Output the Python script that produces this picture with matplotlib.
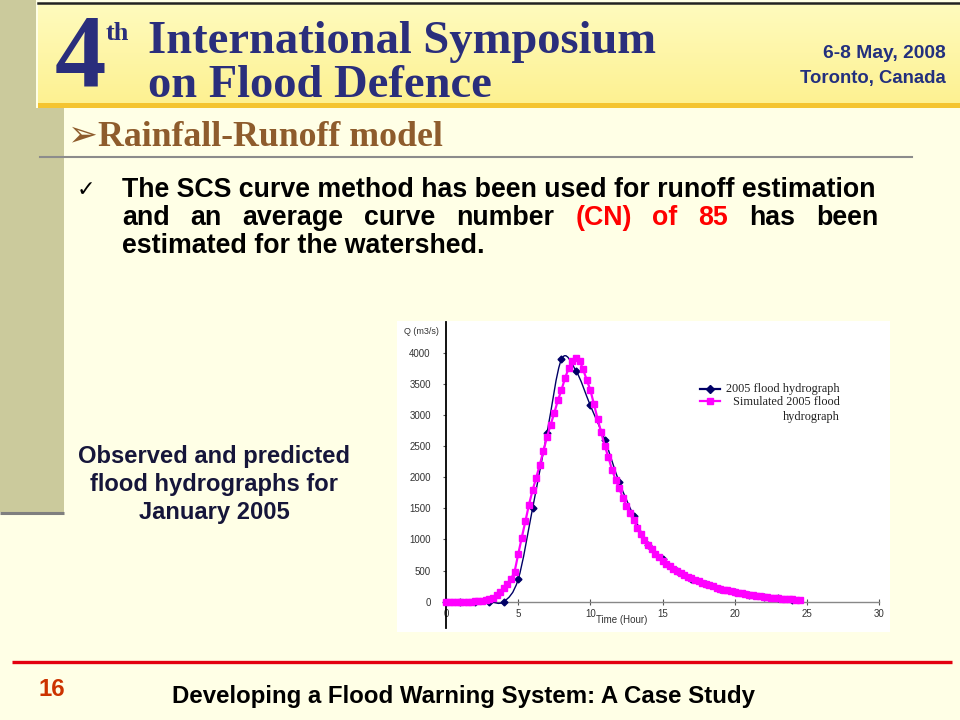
import matplotlib
matplotlib.use("Agg")
import matplotlib.pyplot as plt
import numpy as np
from matplotlib.path import Path
from matplotlib.patches import PathPatch, Rectangle

# ---------------- data ----------------
obs_time = [0, 1, 2, 3, 4, 5, 6, 7, 8, 9, 10, 11, 12, 13, 14, 15, 16, 17, 18, 19, 20, 21, 22, 23, 24]
obs_flow = [0, 0, 0, 0, 0, 360, 1500, 2710, 3890, 3710, 3150, 2600, 1920, 1380, 910, 680,
            490, 370, 280, 210, 155, 110, 80, 55, 35]

sim_time = np.arange(0, 24.75, 0.25)  # simulated output every 0.25 h
sim_flow = [0, 0, 0, 0, 0, 0, 0, 0, 5, 8, 12, 20,
            40, 60, 100, 150, 220, 280, 360, 480,
            760, 1030, 1290, 1560, 1790, 1990, 2200, 2420,
            2650, 2840, 3030, 3230, 3400, 3590, 3750, 3860,
            3920, 3870, 3730, 3560, 3400, 3170, 2940, 2720,
            2500, 2320, 2120, 1960, 1820, 1670, 1540, 1420,
            1310, 1190, 1080, 990, 910, 840, 770, 710,
            660, 610, 570, 530, 490, 460, 430, 400,
            375, 350, 325, 305, 285, 265, 245, 228,
            210, 195, 180, 168, 155, 143, 132, 121,
            111, 102, 94, 86, 79, 72, 66, 60,
            55, 50, 45, 41, 37, 33, 30]

x_ticks = [0, 5, 10, 15, 20, 25, 30]
y_ticks = [0, 500, 1000, 1500, 2000, 2500, 3000, 3500, 4000]
legend_obs = "2005 flood hydrograph"
legend_sim = ["Simulated 2005 flood", "hydrograph"]

# ---------------- figure ----------------
W, H = 960, 720
fig = plt.figure(figsize=(9.6, 7.2), dpi=100)
fig.patch.set_facecolor("#FFFFE6")

bg = fig.add_axes([0, 0, 1, 1], zorder=0)
bg.set_xlim(0, W)
bg.set_ylim(H, 0)
bg.axis("off")
bg.set_facecolor("none")

# left olive bar
bg.add_patch(Rectangle((0, 0), 36, 110, color="#CBCA9C", lw=0))
bg.add_patch(Rectangle((0, 108), 64, 404, color="#CBCA9C", lw=0))
bg.plot([0, 64], [513, 513], color="#7F7F7F", lw=2.2, solid_capstyle="butt")

# header banner with gradient
grad = np.linspace(0, 1, 100)[:, None]
top = np.array([255, 251, 190]) / 255
bot = np.array([253, 241, 145]) / 255
img = top[None, None, :] * (1 - grad[..., None]) + bot[None, None, :] * grad[..., None]
bg.imshow(img, extent=[38, W, 104, 3], aspect="auto", zorder=1)
bg.plot([38, W], [2.5, 2.5], color="#222222", lw=1.8, zorder=2)
bg.add_patch(Rectangle((38, 103), W - 38, 5, color="#F4C430", lw=0, zorder=2))

navy_h = "#2A2E7C"
bg.text(80, 60, "4", fontsize=74, family="Liberation Serif", weight="bold",
        color=navy_h, ha="center", va="center", zorder=3)
bg.text(106, 33, "th", fontsize=19, family="Liberation Serif", weight="bold",
        color=navy_h, ha="left", va="center", zorder=3)
h1 = bg.text(148, 53, "International Symposium", fontsize=36, family="Liberation Serif",
             weight="bold", color=navy_h, ha="left", va="baseline", zorder=3)
h2 = bg.text(148, 97, "on Flood Defence", fontsize=36, family="Liberation Serif",
             weight="bold", color=navy_h, ha="left", va="baseline", zorder=3)
d1 = bg.text(946, 53, "6-8 May, 2008", fontsize=10.5, family="Liberation Sans",
             weight="bold", color="#23307E", ha="right", va="center", zorder=3)
d2 = bg.text(946, 78, "Toronto, Canada", fontsize=10.5, family="Liberation Sans",
             weight="bold", color="#23307E", ha="right", va="center", zorder=3)

# title
title = bg.text(68, 137, "\u27a2Rainfall-Runoff model", fontsize=22,
                family=["Liberation Serif", "DejaVu Sans"], weight="bold",
                color="#8E5C2C", ha="left", va="center")
bg.plot([40, 912], [157, 157], color="#8C8C8C", lw=1.5)

# bullet
bg.text(77, 190, "\u2713", fontsize=16, family="DejaVu Sans", color="black",
        ha="left", va="center")
body_kw = dict(family="Liberation Sans", weight="bold", ha="left", va="center", fontsize=16)
l1 = bg.text(122, 190, "The SCS curve method has been used for runoff estimation", color="black", **body_kw)
l3 = bg.text(122, 246, "estimated for the watershed.", color="black", **body_kw)
words2 = ["and", "an", "average", "curve", "number", "(CN)", "of", "85", "has", "been"]
red_words = {"(CN)", "of", "85"}
w2 = [bg.text(122, 218, w, color=("#FF0000" if w in red_words else "black"), **body_kw)
      for w in words2]

# caption
cap_kw = dict(family="Liberation Sans", weight="bold", ha="center", va="center",
              fontsize=14, color="#16163A")
c1 = bg.text(214, 456, "Observed and predicted", **cap_kw)
c2 = bg.text(214, 485, "flood hydrographs for", **cap_kw)
c3 = bg.text(214, 513, "January 2005", **cap_kw)

# footer
bg.plot([12, 952], [662, 662], color="#E3000F", lw=2.4, solid_capstyle="butt")
f16 = bg.text(38, 690, "16", family="Liberation Sans", weight="bold", fontsize=15,
              color="#CC3300", ha="left", va="center")
ft = bg.text(172, 697, "Developing a Flood Warning System: A Case Study",
             family="Liberation Sans", weight="bold", fontsize=14, color="black",
             ha="left", va="center")

# chart picture background
bg.add_patch(Rectangle((397, 321), 493, 311, color="white", lw=0, zorder=1))

# fit text widths
fig.canvas.draw()
r = fig.canvas.get_renderer()


def fit(t, width):
    w = t.get_window_extent(r).width
    t.set_fontsize(t.get_fontsize() * width / w)


fit(h1, 577)
hfs = h1.get_fontsize() * 0.88
h1.set_fontsize(hfs)
h2.set_fontsize(hfs)
fit(d1, 124)
fit(d2, 146)
fit(title, 375)
fit(l1, 756)
fs = l1.get_fontsize()
l3.set_fontsize(fs)
for t in w2:
    t.set_fontsize(fs)
fit(c1, 272)
for c in (c2, c3):
    c.set_fontsize(c1.get_fontsize())
fit(ft, 583)
fit(f16, 27)
fig.canvas.draw()
widths = [t.get_window_extent(r).width for t in w2]
gap = (756 - sum(widths)) / (len(w2) - 1)
x = 122
for t, w in zip(w2, widths):
    t.set_x(x)
    x += w + gap

# ---------------- chart axes ----------------
x0, x1 = 446, 879
yb, yt = 628, 322
ax = fig.add_axes([x0 / W, (H - yb) / H, (x1 - x0) / W, (yb - yt) / H], zorder=2)
ax.set_facecolor("none")
ax.set_xlim(0, 30)
ax.set_ylim(-422, 4490)
for s in ("top", "right"):
    ax.spines[s].set_visible(False)
ax.spines["left"].set_color("black")
ax.spines["left"].set_linewidth(1.3)
ax.spines["bottom"].set_position(("data", 0))
ax.spines["bottom"].set_color("#888888")
ax.spines["bottom"].set_linewidth(1.0)
ax.set_xticks(x_ticks)
ax.set_yticks(y_ticks)
ax.tick_params(axis="x", direction="inout", length=4, width=0.8, color="#555555",
               labelsize=7, labelcolor="#333333", pad=3)
ax.tick_params(axis="y", direction="out", length=2, width=0.8, color="#555555",
               labelsize=7, labelcolor="#333333", pad=9)
for lab in ax.get_xticklabels() + ax.get_yticklabels():
    lab.set_family("Liberation Sans")

ax.set_xlabel("Time (Hour)", fontsize=7, family="Liberation Sans", color="#333333")
ax.xaxis.set_label_coords((622 - x0) / (x1 - x0), (yb - 620) / (yb - yt))
ax.xaxis.label.set_va("center")
bg.text(404, 331, "Q (m3/s)", fontsize=6.5, family="Liberation Sans", color="#333333",
        ha="left", va="center", zorder=3)

# observed: smoothed line (Catmull-Rom as cubic Bezier) through the points
navy = "#000066"
P = np.column_stack([obs_time, obs_flow]).astype(float)
verts = [tuple(P[0])]
codes = [Path.MOVETO]
n = len(P)
for i in range(n - 1):
    p0 = P[i - 1] if i > 0 else P[i]
    p1, p2 = P[i], P[i + 1]
    p3 = P[i + 2] if i + 2 < n else P[i + 1]
    c1p = p1 + (p2 - p0) / 6.0
    c2p = p2 - (p3 - p1) / 6.0
    verts += [tuple(c1p), tuple(c2p), tuple(p2)]
    codes += [Path.CURVE4] * 3
ax.add_patch(PathPatch(Path(verts, codes), fill=False, edgecolor=navy, lw=1.0, zorder=3))
ax.plot(obs_time, obs_flow, linestyle="none", marker="D", markersize=3.5,
        color=navy, zorder=4, clip_on=False)

mag = "#FF00FF"
ax.plot(sim_time, sim_flow, color=mag, lw=1.6, marker="s", markersize=3.9,
        markeredgecolor=mag, zorder=5, clip_on=False)

# legend (handles left, labels right-aligned as in the original)
leg_kw = dict(family="Liberation Serif", fontsize=8.8, color="#222222", ha="right",
              va="center", zorder=4)
bg.plot([700, 720], [389, 389], color=navy, lw=1.6, zorder=4)
bg.plot([710], [389], marker="D", markersize=4.5, color=navy, zorder=4)
bg.plot([700, 720], [401, 401], color=mag, lw=1.6, zorder=4)
bg.plot([710], [401], marker="s", markersize=5, color=mag, zorder=4)
bg.text(840, 389, legend_obs, **leg_kw)
bg.text(840, 402, legend_sim[0], **leg_kw)
bg.text(840, 417, legend_sim[1], **leg_kw)

fig.savefig("out.png", dpi=100, facecolor=fig.get_facecolor())
